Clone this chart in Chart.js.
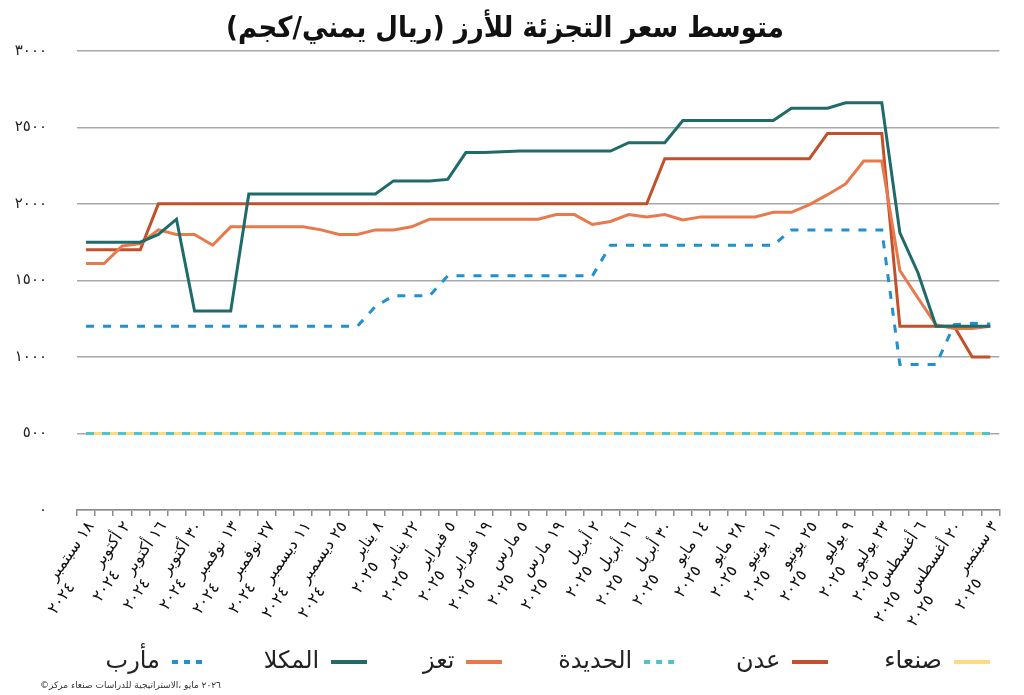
<!DOCTYPE html>
<html lang="ar">
<head>
<meta charset="utf-8">
<title>متوسط سعر التجزئة للأرز</title>
<script src="https://cdn.jsdelivr.net/npm/chart.js@4.4.1/dist/chart.umd.min.js"></script>
<style>
  html, body { margin: 0; padding: 0; background: #fff; }
</style>
</head>
<body>
<canvas id="riceChart" width="1024" height="695"></canvas>
<script>
// weekly survey dates
const weeks = [
  '2024-09-18', '2024-09-25', '2024-10-02', '2024-10-09', '2024-10-16', '2024-10-23',
  '2024-10-30', '2024-11-06', '2024-11-13', '2024-11-20', '2024-11-27', '2024-12-04',
  '2024-12-11', '2024-12-18', '2024-12-25', '2025-01-01', '2025-01-08', '2025-01-15',
  '2025-01-22', '2025-01-29', '2025-02-05', '2025-02-12', '2025-02-19', '2025-02-26',
  '2025-03-05', '2025-03-12', '2025-03-19', '2025-03-26', '2025-04-02', '2025-04-09',
  '2025-04-16', '2025-04-23', '2025-04-30', '2025-05-07', '2025-05-14', '2025-05-21',
  '2025-05-28', '2025-06-04', '2025-06-11', '2025-06-18', '2025-06-25', '2025-07-02',
  '2025-07-09', '2025-07-16', '2025-07-23', '2025-07-30', '2025-08-06', '2025-08-13',
  '2025-08-20', '2025-08-27', '2025-09-03'
];
const monthNames = ['يناير', 'فبراير', 'مارس', 'أبريل', 'مايو', 'يونيو',
  'يوليو', 'أغسطس', 'سبتمبر', 'أكتوبر', 'نوفمبر', 'ديسمبر'];
const yTickLabels = ['٠', '٥٠٠', '١٠٠٠', '١٥٠٠', '٢٠٠٠', '٢٥٠٠', '٣٠٠٠'];

// YER per kg
const sanaa = [
  500, 500, 500, 500, 500, 500, 500, 500, 500, 500, 500, 500, 500, 500, 500, 500, 500,
  500, 500, 500, 500, 500, 500, 500, 500, 500, 500, 500, 500, 500, 500, 500, 500, 500,
  500, 500, 500, 500, 500, 500, 500, 500, 500, 500, 500, 500, 500, 500, 500, 500, 500
];
const aden = [
  1700, 1700, 1700, 1700, 2000, 2000, 2000, 2000, 2000, 2000, 2000, 2000, 2000, 2000,
  2000, 2000, 2000, 2000, 2000, 2000, 2000, 2000, 2000, 2000, 2000, 2000, 2000, 2000,
  2000, 2000, 2000, 2000, 2295, 2295, 2295, 2295, 2295, 2295, 2295, 2295, 2295, 2460,
  2460, 2460, 2460, 1200, 1200, 1200, 1200, 1000, 1000
];
const hodeidah = [
  500, 500, 500, 500, 500, 500, 500, 500, 500, 500, 500, 500, 500, 500, 500, 500, 500,
  500, 500, 500, 500, 500, 500, 500, 500, 500, 500, 500, 500, 500, 500, 500, 500, 500,
  500, 500, 500, 500, 500, 500, 500, 500, 500, 500, 500, 500, 500, 500, 500, 500, 500
];
const taiz = [
  1610, 1610, 1725, 1740, 1830, 1800, 1800, 1730, 1850, 1850, 1850, 1850, 1850, 1830,
  1800, 1800, 1830, 1830, 1850, 1900, 1900, 1900, 1900, 1900, 1900, 1900, 1930, 1930,
  1865, 1885, 1930, 1915, 1930, 1895, 1915, 1915, 1915, 1915, 1945, 1945, 1995, 2060,
  2130, 2280, 2280, 1565, 1385, 1210, 1185, 1185, 1200
];
const mukalla = [
  1750, 1750, 1750, 1750, 1800, 1900, 1300, 1300, 1300, 2065, 2065, 2065, 2065, 2065,
  2065, 2065, 2065, 2150, 2150, 2150, 2160, 2335, 2335, 2340, 2345, 2345, 2345, 2345,
  2345, 2345, 2400, 2400, 2400, 2545, 2545, 2545, 2545, 2545, 2545, 2625, 2625, 2625,
  2660, 2660, 2660, 1810, 1550, 1200, 1200, 1200, 1200
];
const marib = [
  1200, 1200, 1200, 1200, 1200, 1200, 1200, 1200, 1200, 1200, 1200, 1200, 1200, 1200,
  1200, 1200, 1330, 1400, 1400, 1400, 1530, 1530, 1530, 1530, 1530, 1530, 1530, 1530,
  1530, 1730, 1730, 1730, 1730, 1730, 1730, 1730, 1730, 1730, 1730, 1830, 1830, 1830,
  1830, 1830, 1830, 950, 950, 950, 1210, 1220, 1215
];

const FONT = '"DejaVu Sans", sans-serif';
const toArabicDigits = s => String(s).replace(/\d/g, d => '٠١٢٣٤٥٦٧٨٩'[d]);

const xLabels = weeks.map(w => {
  const [y, m, d] = w.split('-').map(Number);
  return [toArabicDigits(d) + ' ' + monthNames[m - 1], toArabicDigits(y)];
});

// the year line starts near the far end of the rotated label, so push it out with spaces
const measure = document.createElement('canvas').getContext('2d');
measure.font = '16px ' + FONT;
function padYear(line1, year) {
  const shift = measure.measureText(line1).width - 8;
  const base = measure.measureText(year).width;
  let s = year;
  while (measure.measureText(s).width - base < shift) s += ' ';
  return s;
}

// little line samples for the legend (keeps the dashes)
function swatch(color, dash) {
  const c = document.createElement('canvas');
  c.width = 36;
  c.height = 6;
  const g = c.getContext('2d');
  g.strokeStyle = color;
  g.lineWidth = 4;
  g.setLineDash(dash || []);
  g.beginPath();
  g.moveTo(0, 3);
  g.lineTo(36, 3);
  g.stroke();
  return c;
}

// source line, words laid out left to right as in the original
const creditWords = ['مركز', 'صنعاء', 'للدراسات', 'الاستراتيجية،', 'مايو', '٢٠٢٦'];
const footnote = {
  id: 'footnote',
  afterDraw(chart) {
    const ctx = chart.ctx;
    ctx.save();
    ctx.direction = 'ltr';
    ctx.font = '9px ' + FONT;
    ctx.fillStyle = '#333';
    ctx.textBaseline = 'middle';
    ctx.textAlign = 'left';
    ctx.fillText('©' + creditWords.join('\u200E '), 40, 686);
    ctx.restore();
  }
};

Chart.defaults.font.family = FONT;

new Chart(document.getElementById('riceChart'), {
  type: 'line',
  data: {
    labels: xLabels,
    datasets: [
      { label: 'صنعاء', data: sanaa, borderColor: '#ffda80', order: 6,
        pointStyle: swatch('#ffda80') },
      { label: 'عدن', data: aden, borderColor: '#c1502b', order: 4,
        pointStyle: swatch('#c1502b') },
      { label: 'الحديدة', data: hodeidah, borderColor: '#4fc4c8', borderDash: [8, 8], order: 5,
        pointStyle: swatch('#4fc4c8', [6, 6]) },
      { label: 'تعز', data: taiz, borderColor: '#e9784b', order: 3,
        pointStyle: swatch('#e9784b') },
      { label: 'المكلا', data: mukalla, borderColor: '#1f6b69', order: 1,
        pointStyle: swatch('#1f6b69') },
      { label: 'مأرب', data: marib, borderColor: '#2190d0', borderDash: [8, 9], order: 2,
        pointStyle: swatch('#2190d0', [6, 6]) }
    ]
  },
  options: {
    responsive: false,
    animation: false,
    layout: { padding: { left: 10, right: 24, top: 0, bottom: 11 } },
    elements: {
      point: { radius: 0, hoverRadius: 0 },
      line: { borderWidth: 3, tension: 0, borderCapStyle: 'butt', fill: false }
    },
    scales: {
      x: {
        offset: true,
        afterFit(scale) { scale.height = 130; },
        grid: {
          offset: true, display: true, drawOnChartArea: false,
          drawTicks: true, tickLength: 6, color: '#8c8c8c', lineWidth: 1.5
        },
        border: { display: true, color: '#8c8c8c', width: 1.5 },
        ticks: {
          autoSkip: false, minRotation: 55, maxRotation: 55, padding: 2, labelOffset: 5,
          color: '#111', font: { size: 16 },
          callback(value, index) {
            if (index % 2 !== 0) return '';
            const [line1, year] = xLabels[index];
            return [line1, padYear(line1, year)];
          }
        }
      },
      y: {
        min: 0,
        max: 3000,
        afterFit(scale) { scale.width = 67; },
        grid: { color: '#a8a8a8', lineWidth: 1.5, drawTicks: false },
        border: { display: false },
        ticks: {
          stepSize: 500, padding: 30, color: '#222', font: { size: 15 },
          callback: value => yTickLabels[value / 500]
        }
      }
    },
    plugins: {
      title: {
        display: true,
        text: 'متوسط سعر التجزئة للأرز (ريال يمني/كجم)\u200F',
        color: '#111',
        font: { family: '"DejaVu Sans Condensed", "DejaVu Sans", sans-serif', size: 29, weight: 'bold' },
        padding: { top: 12, bottom: 4 }
      },
      legend: {
        position: 'bottom',
        align: 'start',
        rtl: true,
        labels: {
          usePointStyle: true,
          pointStyleWidth: 36,
          padding: 10,
          color: '#222',
          font: { size: 24 },
          sort: (a, b) => a.datasetIndex - b.datasetIndex,
          generateLabels(chart) {
            // extra room before each name, the items sit far apart
            const items = Chart.defaults.plugins.legend.labels.generateLabels(chart);
            items.forEach(it => { it.text = '\u00A0'.repeat(6) + it.text; });
            return items;
          }
        }
      },
      tooltip: { enabled: false }
    }
  },
  plugins: [footnote]
});
</script>
</body>
</html>
